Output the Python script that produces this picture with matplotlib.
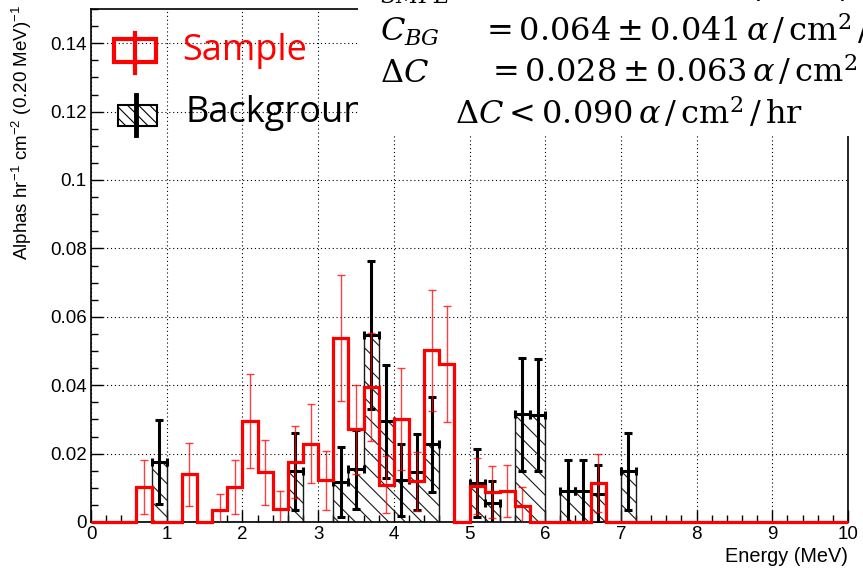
import numpy as np
import matplotlib
matplotlib.use("Agg")
import matplotlib.pyplot as plt
from matplotlib.patches import Rectangle
from matplotlib.lines import Line2D
from matplotlib.ticker import MultipleLocator, FuncFormatter

# ---------------- data (0.20 MeV bins, 0-10 MeV) ----------------
bin_width = 0.2
n_bins = 50
sample_vals = [0, 0, 0, 0.0102, 0, 0, 0.0139, 0, 0.0036, 0.0101,
               0.0296, 0.0146, 0.0039, 0.0175, 0.0229, 0.0122, 0.0538, 0.0271, 0.0395, 0.0109,
               0.0300, 0.0119, 0.0502, 0.0463, 0, 0.0105, 0.0088, 0.0090, 0.0047, 0,
               0, 0, 0, 0.0114, 0, 0, 0, 0, 0, 0,
               0, 0, 0, 0, 0, 0, 0, 0, 0, 0]
sample_errs = [0, 0, 0, 0.0079, 0, 0, 0.0093, 0, 0.0046, 0.0079,
               0.0138, 0.0095, 0.0052, 0.0105, 0.0116, 0.0087, 0.0183, 0.0130, 0.0157, 0.0083,
               0.0149, 0.0087, 0.0177, 0.0170, 0, 0.0083, 0.0075, 0.0076, 0.0055, 0,
               0, 0, 0, 0.0085, 0, 0, 0, 0, 0, 0,
               0, 0, 0, 0, 0, 0, 0, 0, 0, 0]
bg_vals = [0, 0, 0, 0, 0.0175, 0, 0, 0, 0, 0,
           0, 0, 0, 0.0148, 0, 0, 0.0117, 0.0154, 0.0546, 0.0294,
           0.0122, 0.0146, 0.0227, 0, 0, 0.0115, 0.0057, 0, 0.0315, 0.0314,
           0, 0.0091, 0.0091, 0.0083, 0, 0.0148, 0, 0, 0, 0,
           0, 0, 0, 0, 0, 0, 0, 0, 0, 0]
bg_errs = [0, 0, 0, 0, 0.0122, 0, 0, 0, 0, 0,
           0, 0, 0, 0.0112, 0, 0, 0.0101, 0.0116, 0.0216, 0.0166,
           0.0105, 0.0112, 0.0138, 0, 0, 0.0099, 0.0062, 0, 0.0165, 0.0164,
           0, 0.0090, 0.0090, 0.0085, 0, 0.0112, 0, 0, 0, 0,
           0, 0, 0, 0, 0, 0, 0, 0, 0, 0]
x_ticks = [0, 1, 2, 3, 4, 5, 6, 7, 8, 9, 10]
y_ticks = [0, 0.02, 0.04, 0.06, 0.08, 0.10, 0.12, 0.14]
legend_labels = ["Sample", "Background"]
unit = r"\,\alpha\,/\,\mathrm{cm}^2\,/\,\mathrm{hr}"
eq_lines = [(r"$C_{SMPL}$", r"$=0.092\pm0.048" + unit + "$"),
            (r"$C_{BG}$", r"$=0.064\pm0.041" + unit + "$"),
            (r"$\Delta C$", r"$=0.028\pm0.063" + unit + "$")]
limit_line = r"$\Delta C<0.090" + unit + "$"

# ---------------- style ----------------
plt.rcParams['font.family'] = ['Liberation Sans', 'DejaVu Sans']
plt.rcParams['mathtext.fontset'] = 'custom'
plt.rcParams['mathtext.rm'] = 'Liberation Sans'
plt.rcParams['mathtext.it'] = 'Liberation Sans:italic'
plt.rcParams['hatch.linewidth'] = 0.8

W, H = 863, 569
fig = plt.figure(figsize=(W / 100, H / 100), dpi=100)


def fx(px):
    return px / W


def fy(py):
    return 1 - py / H


ax = fig.add_axes([fx(91), fy(522), fx(848) - fx(91), fy(9) - fy(522)])

s_vals = np.array(sample_vals)
s_errs = np.array(sample_errs)
b_vals = np.array(bg_vals)
b_errs = np.array(bg_errs)
edges = np.arange(n_bins + 1) * bin_width
centers = edges[:-1] + bin_width / 2

# background hatched histogram
ax.stairs(b_vals, edges, fill=True, facecolor='none', edgecolor='#1a1a1a',
          lw=1.0, hatch='\\\\', zorder=2)
mb = b_vals > 0
ax.errorbar(centers[mb], b_vals[mb], xerr=bin_width / 2, yerr=b_errs[mb], fmt='none',
            ecolor='black', elinewidth=2.2, capsize=2.8, capthick=2.2, zorder=3)

# sample histogram
ax.stairs(s_vals, edges, color='red', lw=2.3, zorder=4, clip_on=False)
ms = s_vals > 0
ax.errorbar(centers[ms], s_vals[ms], yerr=s_errs[ms], fmt='none',
            ecolor=(1, 0, 0, 0.75), elinewidth=1.0, capsize=3, capthick=1.0, zorder=5)

ax.set_xlim(0, 10)
ax.set_ylim(0, 0.15)
ax.set_xticks(x_ticks)
ax.set_yticks(y_ticks)
ax.xaxis.set_minor_locator(MultipleLocator(0.2))
ax.yaxis.set_minor_locator(MultipleLocator(0.005))
ax.yaxis.set_major_formatter(FuncFormatter(lambda v, p: f"{v:g}"))
ax.tick_params(which='both', direction='in', top=False, right=False, width=1.0,
               color='black')
ax.tick_params(which='major', length=8.5, labelsize=13.5, pad=3)
ax.tick_params(which='minor', length=5)
ax.grid(True, which='major', color='black', linestyle=(0, (1, 2.5)), linewidth=0.8)
for sp in ax.spines.values():
    sp.set_linewidth(1.2)

fig.text(fx(848), fy(556), 'Energy (MeV)', ha='right', va='center', fontsize=14.3)
fig.text(fx(22), fy(5), r'Alphas hr$^{-1}$ cm$^{-2}$ (0.20 MeV)$^{-1}$', rotation=90,
         ha='center', va='top', fontsize=13.5)

# legend (manual)
fig.add_artist(Rectangle((fx(114), fy(62)), fx(156) - fx(114), fy(39) - fy(62),
                         transform=fig.transFigure, facecolor='none', edgecolor='red',
                         lw=3, zorder=3))
fig.add_artist(Line2D([fx(135), fx(135)], [fy(33), fy(73)], transform=fig.transFigure,
                      color='red', lw=3, zorder=3))
fig.add_artist(Rectangle((fx(118), fy(126)), fx(157) - fx(118), fy(105) - fy(126),
                         transform=fig.transFigure, facecolor='white', edgecolor='black',
                         hatch='\\\\\\', lw=1.5, zorder=3))
fig.add_artist(Line2D([fx(136), fx(136)], [fy(95), fy(135)], transform=fig.transFigure,
                      color='black', lw=3.5, zorder=3))
fig.text(fx(182), fy(60), legend_labels[0], color='red', fontsize=26,
         family='Open Sans', va='baseline', zorder=3)
fig.text(fx(185), fy(122), legend_labels[1], color='black', fontsize=26,
         family='Open Sans', va='baseline', zorder=3)

# white panel with equations
fig.add_artist(Rectangle((fx(358), fy(136)), 1 - fx(358), fy(0) - fy(136),
                         transform=fig.transFigure, facecolor='white', edgecolor='none',
                         zorder=4))
name_x = [356, 380, 380]
eq_x = [464, 480, 486]
base_y = [-1, 41, 82]
for (name, rest), nx, ex, by in zip(eq_lines, name_x, eq_x, base_y):
    fig.text(fx(nx), fy(by), name, fontsize=23, math_fontfamily='dejavuserif',
             va='baseline', ha='left', zorder=5)
    fig.text(fx(ex), fy(by), rest, fontsize=23, math_fontfamily='dejavuserif',
             va='baseline', ha='left', zorder=5)
fig.text(fx(455), fy(124), limit_line, fontsize=23, math_fontfamily='dejavuserif',
         va='baseline', ha='left', zorder=5)

fig.savefig('out.png', dpi=100)
